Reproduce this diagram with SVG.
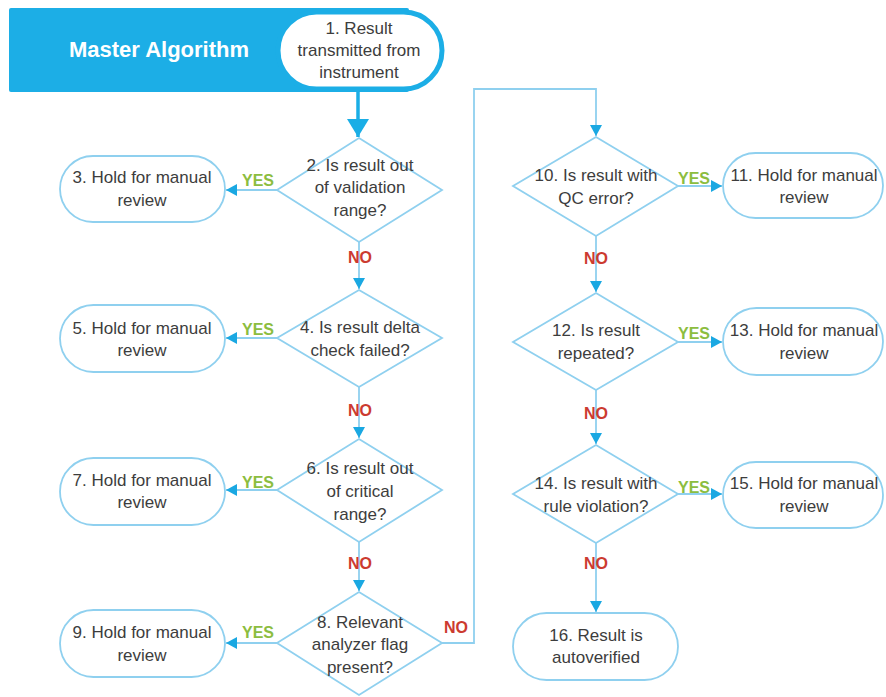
<svg xmlns="http://www.w3.org/2000/svg" width="886" height="697" viewBox="0 0 886 697">
<style>
.bg{fill:#ffffff}
.shape{fill:#ffffff;stroke:#8fd0ef;stroke-width:1.8}
.t{font-family:"Liberation Sans",Arial,sans-serif;font-size:17px;fill:#3d3d3d;text-anchor:middle}
.yes{font-family:"Liberation Sans",Arial,sans-serif;font-size:16px;font-weight:bold;fill:#8cbd3f;text-anchor:middle}
.no{font-family:"Liberation Sans",Arial,sans-serif;font-size:16px;font-weight:bold;fill:#cc3b30;text-anchor:middle}
.c{fill:none;stroke:#8fd0ef;stroke-width:1.8;marker-end:url(#ah)}
.title{font-family:"Liberation Sans",Arial,sans-serif;font-size:22px;font-weight:bold;fill:#ffffff;text-anchor:middle}
</style>
<defs>
<marker id="ah" markerUnits="userSpaceOnUse" markerWidth="12" markerHeight="12" refX="11" refY="6" orient="auto">
<path d="M0,0 L11,6 L0,12 z" fill="#1aa8e2"/>
</marker>
<marker id="ahBig" markerUnits="userSpaceOnUse" markerWidth="22" markerHeight="22" refX="18" refY="11" orient="auto">
<path d="M0,0 L18,11 L0,22 z" fill="#1aaee6"/>
</marker>
</defs>
<rect class="bg" x="0" y="0" width="886" height="697"/>

<g id="banner">
<rect x="9" y="8" width="400" height="84" rx="2" fill="#1caee6"/>
<text class="title" x="159" y="57">Master Algorithm</text>
</g>

<g id="connectors">
<line x1="358" y1="91" x2="358" y2="137" stroke="#1aaee6" stroke-width="3.5" marker-end="url(#ahBig)"/>
<line class="c" x1="277" y1="190" x2="226" y2="190"/>
<line class="c" x1="359" y1="242" x2="359" y2="289"/>
<line class="c" x1="277" y1="338" x2="226" y2="338"/>
<line class="c" x1="359" y1="387" x2="359" y2="438"/>
<line class="c" x1="277" y1="490" x2="226" y2="490"/>
<line class="c" x1="359" y1="542" x2="359" y2="591"/>
<line class="c" x1="277" y1="643" x2="226" y2="643"/>
<polyline class="c" points="442,643 474,643 474,89 596,89 596,136"/>
<line class="c" x1="678" y1="186" x2="722" y2="186"/>
<line class="c" x1="596" y1="236" x2="596" y2="292"/>
<line class="c" x1="678" y1="342" x2="722" y2="342"/>
<line class="c" x1="596" y1="390" x2="596" y2="444"/>
<line class="c" x1="678" y1="494" x2="722" y2="494"/>
<line class="c" x1="596" y1="543" x2="596" y2="612"/>
<text class="yes" x="258" y="186">YES</text>
<text class="yes" x="258" y="335">YES</text>
<text class="yes" x="258" y="488">YES</text>
<text class="yes" x="258" y="638">YES</text>
<text class="yes" x="694" y="184">YES</text>
<text class="yes" x="694" y="339">YES</text>
<text class="yes" x="694" y="493">YES</text>
<text class="no" x="360" y="263">NO</text>
<text class="no" x="360" y="416">NO</text>
<text class="no" x="360" y="569">NO</text>
<text class="no" x="456" y="633">NO</text>
<text class="no" x="596" y="264">NO</text>
<text class="no" x="596" y="419">NO</text>
<text class="no" x="596" y="569">NO</text>
</g>

<g id="n1">
<rect x="278" y="12" width="164" height="77" rx="38.5" fill="#ffffff" stroke="#1caee6" stroke-width="5"/>
<text class="t" x="359" y="34">1. Result</text>
<text class="t" x="359" y="56">transmitted from</text>
<text class="t" x="359" y="78">instrument</text>
</g>

<g id="n2">
<polygon class="shape" points="359,138 442,190 359,242 277,190"/>
<text class="t" x="360" y="171">2. Is result out</text>
<text class="t" x="360" y="193">of validation</text>
<text class="t" x="360" y="216">range?</text>
</g>
<g id="n3">
<rect class="shape" x="60" y="156" width="165" height="66" rx="33"/>
<text class="t" x="142" y="183">3. Hold for manual</text>
<text class="t" x="142" y="206">review</text>
</g>

<g id="n4">
<polygon class="shape" points="359,290 442,338 359,387 277,338"/>
<text class="t" x="360" y="333">4. Is result delta</text>
<text class="t" x="360" y="356">check failed?</text>
</g>
<g id="n5">
<rect class="shape" x="60" y="305" width="165" height="67" rx="33.5"/>
<text class="t" x="142" y="334">5. Hold for manual</text>
<text class="t" x="142" y="356">review</text>
</g>

<g id="n6">
<polygon class="shape" points="359,439 442,490 359,542 277,490"/>
<text class="t" x="360" y="474">6. Is result out</text>
<text class="t" x="360" y="497">of critical</text>
<text class="t" x="360" y="520">range?</text>
</g>
<g id="n7">
<rect class="shape" x="60" y="458" width="165" height="67" rx="33.5"/>
<text class="t" x="142" y="486">7. Hold for manual</text>
<text class="t" x="142" y="508">review</text>
</g>

<g id="n8">
<polygon class="shape" points="359,592 442,643 359,695 277,643"/>
<text class="t" x="360" y="628">8. Relevant</text>
<text class="t" x="360" y="650">analyzer flag</text>
<text class="t" x="360" y="673">present?</text>
</g>
<g id="n9">
<rect class="shape" x="60" y="610" width="165" height="67" rx="33.5"/>
<text class="t" x="142" y="638">9. Hold for manual</text>
<text class="t" x="142" y="661">review</text>
</g>

<g id="n10">
<polygon class="shape" points="596,137 678,186 596,236 513,186"/>
<text class="t" x="596" y="181">10. Is result with</text>
<text class="t" x="596" y="204">QC error?</text>
</g>
<g id="n11">
<rect class="shape" x="723" y="153" width="160" height="65" rx="32.5"/>
<text class="t" x="804" y="181">11. Hold for manual</text>
<text class="t" x="804" y="203">review</text>
</g>

<g id="n12">
<polygon class="shape" points="596,293 678,342 596,390 513,342"/>
<text class="t" x="596" y="336">12. Is result</text>
<text class="t" x="596" y="359">repeated?</text>
</g>
<g id="n13">
<rect class="shape" x="723" y="308" width="160" height="67" rx="33.5"/>
<text class="t" x="804" y="336">13. Hold for manual</text>
<text class="t" x="804" y="359">review</text>
</g>

<g id="n14">
<polygon class="shape" points="596,445 678,494 596,543 513,494"/>
<text class="t" x="596" y="489">14. Is result with</text>
<text class="t" x="596" y="512">rule violation?</text>
</g>
<g id="n15">
<rect class="shape" x="723" y="462" width="160" height="66" rx="33"/>
<text class="t" x="804" y="489">15. Hold for manual</text>
<text class="t" x="804" y="512">review</text>
</g>

<g id="n16">
<rect class="shape" x="513" y="613" width="165" height="67" rx="33.5"/>
<text class="t" x="596" y="641">16. Result is</text>
<text class="t" x="596" y="663">autoverified</text>
</g>
</svg>
